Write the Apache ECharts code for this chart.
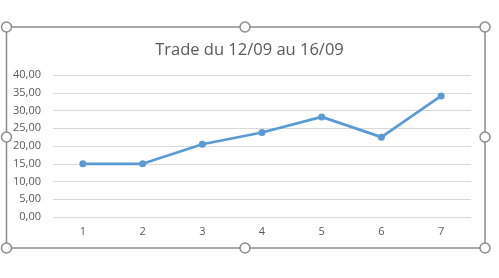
<!DOCTYPE html>
<html><head><meta charset="utf-8">
<script src="https://cdn.jsdelivr.net/npm/echarts@6/dist/echarts.min.js"></script>
<style>html,body{margin:0;padding:0;background:#fff}#c{width:499px;height:278px}</style>
</head><body><div id="c"></div>
<script>
var titleText = 'Trade du 12/09 au 16/09';
var categories = ['1','2','3','4','5','6','7'];
var values = [15.0, 15.0, 20.5, 23.8, 28.2, 22.5, 34.1];
var yMin = 0, yMax = 40, yStep = 5;

var chart = echarts.init(document.getElementById('c'), null, {renderer:'canvas'});
var handles = [[6.5,27],[245,27],[485,27],[6.5,137],[485,137],[6.5,248],[245,248],[485,248]];
var graphic = [{type:'rect', shape:{x:6.5,y:27,width:478.5,height:221}, style:{fill:null, stroke:'#8c8c8c', lineWidth:1.5}, z:100}];
handles.forEach(function(h){
  graphic.push({type:'circle', shape:{cx:h[0], cy:h[1], r:5}, style:{fill:'#fff', stroke:'#8c8c8c', lineWidth:1.5}, z:101});
});
chart.setOption({
  animation:false,
  title:{text:titleText, left:'center', top:37, textStyle:{fontFamily:'Open Sans', fontSize:16.5, fontWeight:'normal', color:'#595959'}},
  grid:{left:53, right:28, top:75, bottom:61},
  xAxis:{type:'category', data:categories, boundaryGap:true,
    axisLine:{show:false}, axisTick:{show:false},
    axisLabel:{color:'#595959', fontFamily:'Open Sans', fontSize:11, margin:9}},
  yAxis:{type:'value', min:yMin, max:yMax, interval:yStep,
    axisLine:{show:false}, axisTick:{show:false},
    splitLine:{lineStyle:{color:'#d9d9d9', width:1}},
    axisLabel:{color:'#595959', fontFamily:'Open Sans', fontSize:11, margin:12,
      formatter:function(v){return v.toFixed(2).replace('.',',');}}},
  series:[{type:'line', data:values, symbol:'circle', symbolSize:7,
    lineStyle:{color:'#5b9bd5', width:2.75}, itemStyle:{color:'#5b9bd5'}}],
  graphic:graphic
});
</script></body></html>
